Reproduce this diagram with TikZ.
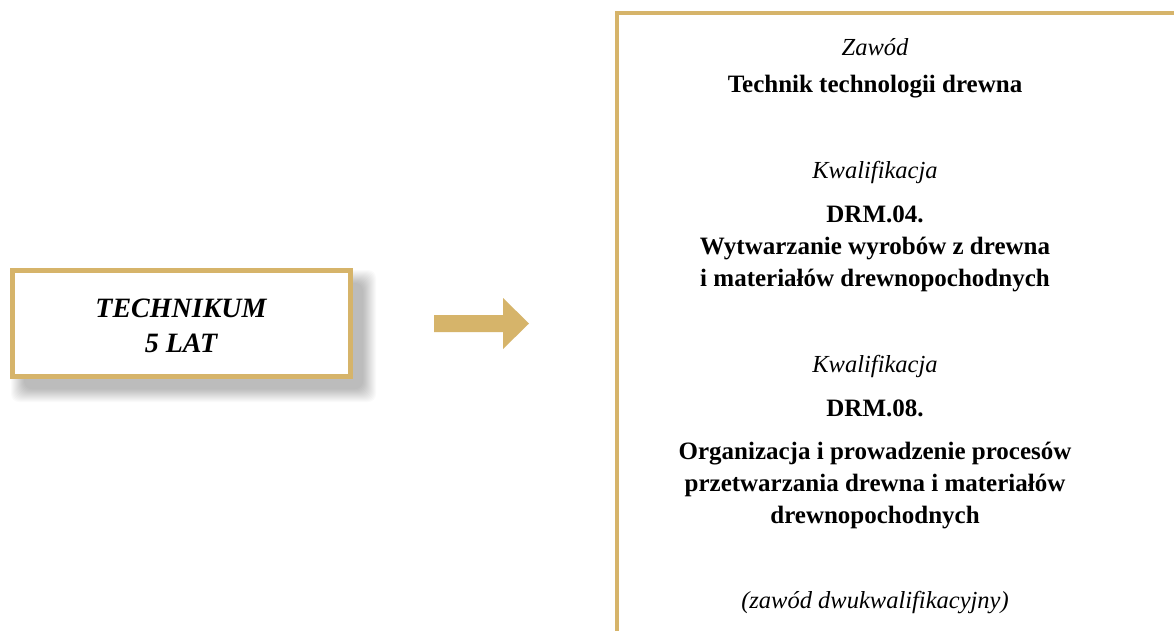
\documentclass[tikz,border=0pt]{standalone}
\usepackage{fontspec}
\setmainfont{Liberation Serif}
\definecolor{gold}{RGB}{214,180,106}
\tikzset{
  goldbox/.style={draw=gold, line width=5pt, fill=white},
  ital/.style={anchor=base, font=\fontsize{24.5}{30}\selectfont\itshape},
  boldt/.style={anchor=base, font=\fontsize{25}{30}\selectfont\bfseries},
  lefttxt/.style={align=center, font=\fontsize{28}{35}\selectfont\bfseries\itshape}
}
\begin{document}
\begin{tikzpicture}[x=1pt,y=-1pt]
\clip (0,0) rectangle (1174,630);
\fill[white] (0,0) rectangle (1174,630);
% soft shadow of the left box
\foreach \i in {0,...,13}{
  \fill[black, opacity=0.018, rounded corners=8pt] (11+\i,270+\i) rectangle (376-\i,402-\i);
}
% left box
\node[goldbox, minimum width=338pt, minimum height=106pt, inner sep=0pt] (tech) at (181,323.5) {};
\node[lefttxt, anchor=base] (t1) at (181,317) {TECHNIKUM};
\node[lefttxt, anchor=base] (t2) at (181,352) {5 LAT};
% arrow
\fill[gold] (434,315) -- (503,315) -- (503,298) -- (529,323.5) -- (503,349) -- (503,332) -- (434,332) -- cycle;
% right box
\draw[gold, line width=4pt] (617,700) -- (617,13) -- (1250,13);
\node[ital] (z1) at (875,55) {Zawód};
\node[boldt] (z2) at (875,92) {Technik technologii drewna};
\node[ital] (k1) at (875,178) {Kwalifikacja};
\node[boldt] (d4) at (875,222) {DRM.04.};
\node[boldt] (d4a) at (875,254) {Wytwarzanie wyrobów z drewna};
\node[boldt] (d4b) at (875,286) {i materiałów drewnopochodnych};
\node[ital] (k2) at (875,372) {Kwalifikacja};
\node[boldt] (d8) at (875,416) {DRM.08.};
\node[boldt] (d8a) at (875,459) {Organizacja i prowadzenie procesów};
\node[boldt] (d8b) at (875,491) {przetwarzania drewna i materiałów};
\node[boldt] (d8c) at (875,523) {drewnopochodnych};
\node[ital] (zd) at (875,608) {(zawód dwukwalifikacyjny)};
\end{tikzpicture}
\end{document}
